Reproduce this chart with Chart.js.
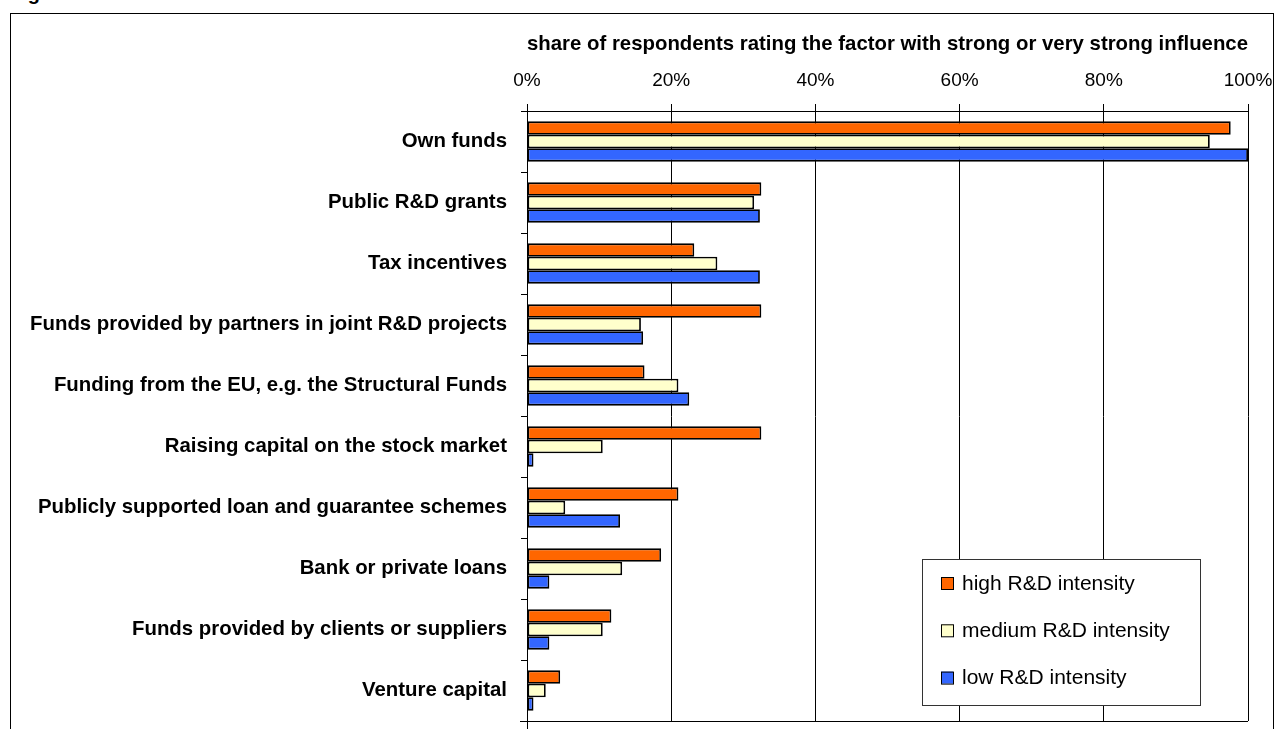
<!DOCTYPE html>
<html>
<head>
<meta charset="utf-8">
<script src="https://cdn.jsdelivr.net/npm/chart.js@4.4.1/dist/chart.umd.min.js"></script>
<style>
  html, body { margin: 0; padding: 0; background: #fff; overflow: hidden; }
  body { width: 1275px; height: 729px; position: relative; font-family: "Liberation Sans", Arial, sans-serif; }
  .frame { position: absolute; left: 10px; top: 13px; width: 1264px; height: 760px; border: 1px solid #000; box-sizing: border-box; }
  .fig-title { position: absolute; left: 10px; top: -17px; font-size: 20px; line-height: 20px; font-weight: bold; color: #000; }
  #chart { position: absolute; left: 0; top: 0; }
</style>
</head>
<body>
<div class="fig-title">Figure</div>
<div class="frame"></div>
<canvas id="chart" width="1275" height="729"></canvas>
<script>
// Chart data
const categories = [
  "Own funds",
  "Public R&D grants",
  "Tax incentives",
  "Funds provided by partners in joint R&D projects",
  "Funding from the EU, e.g. the Structural Funds",
  "Raising capital on the stock market",
  "Publicly supported loan and guarantee schemes",
  "Bank or private loans",
  "Funds provided by clients or suppliers",
  "Venture capital"
];
const highIntensity = [97.6, 32.5, 23.2, 32.5, 16.3, 32.5, 21.0, 18.6, 11.7, 4.6];
const mediumIntensity = [94.7, 31.5, 26.4, 15.8, 21.0, 10.5, 5.3, 13.2, 10.5, 2.6];
const lowIntensity = [100, 32.3, 32.3, 16.1, 22.5, 0.9, 12.9, 3.1, 3.1, 0.9];
const seriesNames = ["high R&D intensity", "medium R&D intensity", "low R&D intensity"];
const tickLabels = ["0%", "20%", "40%", "60%", "80%", "100%"];
const axisTitle = "share of respondents rating the factor with strong or very strong influence";

const FONT = '"Liberation Sans", Arial, sans-serif';

// Legend box drawn inside the plot
const boxLegend = {
  id: "boxLegend",
  afterDraw(chart) {
    const ctx = chart.ctx;
    const x = 922.5, y = 559.5, w = 278, h = 146;
    ctx.save();
    ctx.fillStyle = "#fff";
    ctx.fillRect(x, y, w, h);
    ctx.strokeStyle = "#333";
    ctx.lineWidth = 1;
    ctx.strokeRect(x, y, w, h);
    ctx.font = "21px " + FONT;
    ctx.textBaseline = "middle";
    chart.data.datasets.forEach((ds, i) => {
      const cy = 583 + i * 47.3;
      ctx.fillStyle = ds.backgroundColor;
      ctx.fillRect(941, cy - 6, 12, 12);
      ctx.strokeStyle = "#000";
      ctx.strokeRect(941.5, cy - 5.5, 12, 12);
      ctx.fillStyle = "#000";
      ctx.fillText(ds.label, 962, cy + 1);
    });
    ctx.restore();
  }
};

// Bottom edge of the plot area
const plotEdge = {
  id: "plotEdge",
  afterDatasetsDraw(chart) {
    const { ctx, chartArea } = chart;
    ctx.save();
    ctx.strokeStyle = "#000";
    ctx.lineWidth = 1;
    ctx.beginPath();
    ctx.moveTo(chartArea.left - 7, Math.round(chartArea.bottom) + 0.5);
    ctx.lineTo(chartArea.right, Math.round(chartArea.bottom) + 0.5);
    ctx.moveTo(Math.round(chartArea.left) + 0.5, chartArea.bottom);
    ctx.lineTo(Math.round(chartArea.left) + 0.5, chart.height);
    ctx.stroke();
    ctx.restore();
  }
};

new Chart(document.getElementById("chart"), {
  type: "bar",
  data: {
    labels: categories,
    datasets: [
      { label: seriesNames[0], data: highIntensity, backgroundColor: "#FF6600" },
      { label: seriesNames[1], data: mediumIntensity, backgroundColor: "#FFFFCC" },
      { label: seriesNames[2], data: lowIntensity, backgroundColor: "#3366FF" }
    ]
  },
  options: {
    indexAxis: "y",
    responsive: false,
    animation: false,
    devicePixelRatio: 1,
    layout: { padding: { top: 20, left: 0, right: 27, bottom: 8 } },
    datasets: {
      bar: {
        borderColor: "#000",
        borderWidth: 1.8,
        borderSkipped: false,
        categoryPercentage: 0.66,
        barPercentage: 1.0
      }
    },
    plugins: {
      legend: { display: false },
      tooltip: { enabled: false }
    },
    scales: {
      x: {
        position: "top",
        min: 0,
        max: 100,
        ticks: {
          stepSize: 20,
          padding: 12,
          color: "#000",
          font: { family: FONT, size: 19 },
          callback: (v, i) => tickLabels[i]
        },
        grid: { color: "#000", lineWidth: 1, tickLength: 7 },
        border: { color: "#000", width: 1 },
        title: {
          display: true,
          text: axisTitle,
          align: "end",
          color: "#000",
          font: { family: FONT, size: 21, weight: "bold" },
          padding: { top: 12, bottom: 0 }
        },
        afterFit: s => {
          s.height = 91;
          s.paddingLeft = 0;
          s.paddingRight = 0;
        }
      },
      y: {
        ticks: {
          padding: 14,
          color: "#000",
          font: { family: FONT, size: 20.4, weight: "bold" }
        },
        grid: { drawOnChartArea: false, color: "#000", tickLength: 6 },
        border: { color: "#000", width: 1 },
        afterFit: s => {
          s.width = 527;
          s.paddingTop = 0;
          s.paddingBottom = 0;
        }
      }
    }
  },
  plugins: [plotEdge, boxLegend]
});
</script>
</body>
</html>
